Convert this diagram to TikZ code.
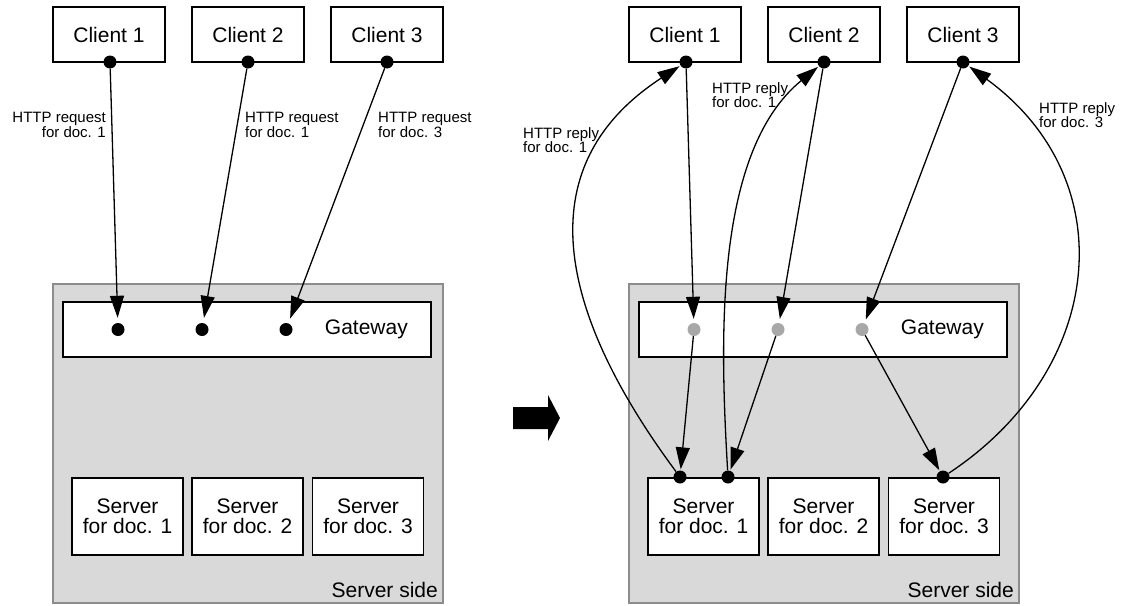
\documentclass[tikz,border=0pt]{standalone}
\usepackage{fontspec}
\setmainfont{Liberation Sans}
\usetikzlibrary{arrows.meta}
\definecolor{sidefill}{RGB}{217,217,217}
\definecolor{sideline}{RGB}{140,140,140}
\definecolor{graydot}{RGB}{168,168,168}
\begin{document}
\begin{tikzpicture}[x=1pt,y=-1pt,
  box/.style={draw=black,line width=1.2pt,fill=white,inner sep=0pt,align=center,font=\fontsize{21}{20}\selectfont},
  clientbox/.style={box,minimum width=112pt,minimum height=55pt},
  serverbox/.style={box,minimum width=111pt,minimum height=77pt},
  gatebox/.style={box,minimum width=368pt,minimum height=55pt},
  sidebox/.style={draw=sideline,fill=sidefill,line width=1.5pt,inner sep=0pt,minimum width=390pt,minimum height=319pt},
  bigtxt/.style={inner sep=0pt,font=\fontsize{21}{20}\selectfont},
  smalltxt/.style={inner sep=0pt,font=\fontsize{15}{14.5}\selectfont},
  blackdot/.style={circle,fill=black,inner sep=0pt,minimum size=13pt},
  greydot/.style={circle,fill=graydot,inner sep=0pt,minimum size=13pt},
  conn/.style={line width=1.3pt,-{Triangle[length=22pt,width=14pt]}},
]
\useasboundingbox (0,0) rectangle (1124,605);

% ---------------- left panel ----------------
\node[sidebox] (sideL) at (248,443.5) {};
\node[bigtxt,anchor=base east] (sideLt) at (438,597) {Server side};
\node[gatebox] (gwL) at (247,329.5) {};
\node[bigtxt,anchor=east] (gwLt) at (408,329.5) {Gateway};
\node[serverbox] (s1L) at (127.5,516.5) {Server\\for doc. 1};
\node[serverbox] (s2L) at (247.5,516.5) {Server\\for doc. 2};
\node[serverbox] (s3L) at (368,516.5) {Server\\for doc. 3};
\node[clientbox] (c1L) at (109,34.5) {Client 1};
\node[clientbox] (c2L) at (248,34.5) {Client 2};
\node[clientbox] (c3L) at (387,34.5) {Client 3};

\node[blackdot] (c1Ld) at (110,62) {};
\node[blackdot] (c2Ld) at (248,62) {};
\node[blackdot] (c3Ld) at (387,62) {};
\node[blackdot] (g1L) at (118,329.5) {};
\node[blackdot] (g2L) at (202,329.5) {};
\node[blackdot] (g3L) at (286,329.5) {};

\draw[conn,shorten >=5pt] (c1Ld) -- (g1L);
\draw[conn,shorten >=5pt] (c2Ld) -- (g2L);
\draw[conn,shorten >=5pt] (c3Ld) -- (g3L);

\node[smalltxt,anchor=east,align=right] (l1L) at (106,125) {HTTP request\\for doc. 1};
\node[smalltxt,anchor=west,align=left] (l2L) at (245,125) {HTTP request\\for doc. 1};
\node[smalltxt,anchor=west,align=left] (l3L) at (378,125) {HTTP request\\for doc. 3};

% ---------------- middle arrow ----------------
\fill[black] (513,407) -- (548,407) -- (548,395) -- (560,418) -- (548,441) -- (548,429) -- (513,429) -- cycle;

% ---------------- right panel ----------------
\node[sidebox] (sideR) at (824,443.5) {};
\node[bigtxt,anchor=base east] (sideRt) at (1014,597) {Server side};
\node[gatebox] (gwR) at (823,329.5) {};
\node[bigtxt,anchor=east] (gwRt) at (984,329.5) {Gateway};
\node[serverbox] (s1R) at (703.5,516.5) {Server\\for doc. 1};
\node[serverbox] (s2R) at (823.5,516.5) {Server\\for doc. 2};
\node[serverbox] (s3R) at (944,516.5) {Server\\for doc. 3};
\node[clientbox] (c1R) at (685,34.5) {Client 1};
\node[clientbox] (c2R) at (824,34.5) {Client 2};
\node[clientbox] (c3R) at (963,34.5) {Client 3};

\node[blackdot] (c1Rd) at (686,62) {};
\node[blackdot] (c2Rd) at (824,62) {};
\node[blackdot] (c3Rd) at (963,62) {};
\node[greydot] (g1R) at (694,329.5) {};
\node[greydot] (g2R) at (778,329.5) {};
\node[greydot] (g3R) at (862,329.5) {};
\node[blackdot] (s1Ra) at (680,477) {};
\node[blackdot] (s1Rb) at (728,477) {};
\node[blackdot] (s3Rd) at (943,477) {};

\draw[conn,shorten >=4pt] (c1Rd) -- (g1R);
\draw[conn,shorten >=4pt] (c2Rd) -- (g2R);
\draw[conn,shorten >=4pt] (c3Rd) -- (g3R);
\draw[conn,shorten >=1pt] (g1R) -- (s1Ra);
\draw[conn,shorten >=1pt] (g2R) -- (s1Rb);
\draw[conn,shorten >=1pt] (g3R) -- (s3Rd);

\draw[conn,shorten >=1pt] (s1Ra) .. controls +(-115,-155) and +(-166,108) .. (c1Rd);
\draw[conn,shorten >=1pt] (s1Rb) .. controls +(-8,-137) and +(-110,90) .. (c2Rd);
\draw[conn,shorten >=1pt] (s3Rd) .. controls +(162,-107) and +(162,118) .. (c3Rd);

\node[smalltxt,anchor=west,align=left] (l1R) at (523,140) {HTTP reply\\for doc. 1};
\node[smalltxt,anchor=west,align=left] (l2R) at (712,95) {HTTP reply\\for doc. 1};
\node[smalltxt,anchor=west,align=left] (l3R) at (1039,115) {HTTP reply\\for doc. 3};
\end{tikzpicture}
\end{document}
